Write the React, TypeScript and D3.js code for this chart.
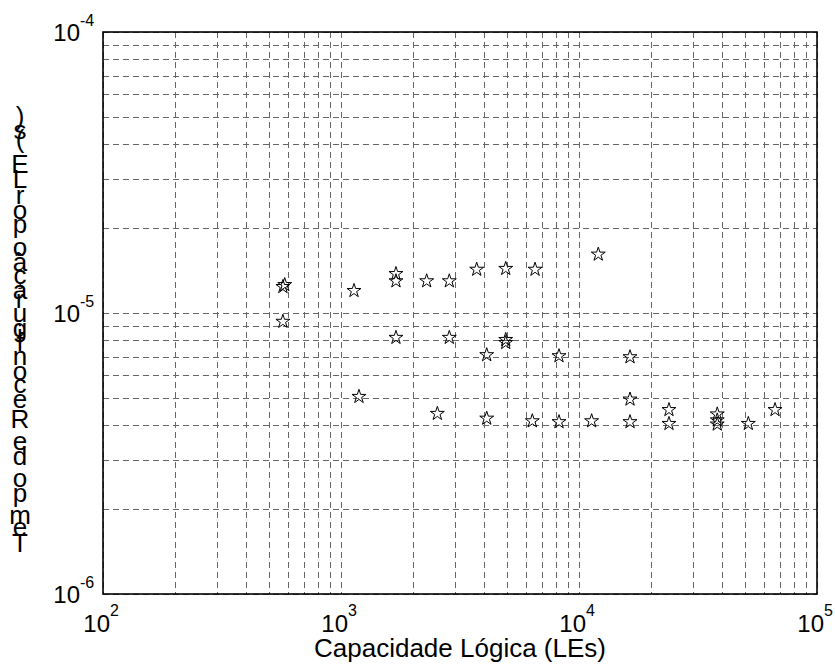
import React from 'react';
import * as d3 from 'd3';

// capacidade logica (LEs) e tempo de reconfiguracao por LE (s)
const capacidade = [
  570, 580, 570, 1134, 1190, 1702, 1702, 1702, 2291, 2852, 2852, 2540,
  3717, 4095, 4095, 4922, 4922, 4922, 6366, 6536, 12050, 8240, 8240, 11300,
  16380, 16380, 16380, 23880, 23880, 38100, 38100, 38100, 51460, 66620,
];
const tempo = [
  1.25e-5, 1.27e-5, 9.4e-6, 1.21e-5, 5.08e-6, 1.39e-5, 1.31e-5, 8.24e-6, 1.31e-5, 1.31e-5, 8.24e-6, 4.42e-6,
  1.44e-5, 7.15e-6, 4.25e-6, 1.45e-5, 8.1e-6, 7.9e-6, 4.16e-6, 1.44e-5, 1.63e-5, 7.09e-6, 4.13e-6, 4.16e-6,
  7.03e-6, 4.97e-6, 4.13e-6, 4.56e-6, 4.07e-6, 4.4e-6, 4.19e-6, 4.05e-6, 4.07e-6, 4.56e-6,
];

const xTickValues = [1e2, 1e3, 1e4, 1e5];
const xTickExp = ['2', '3', '4', '5'];
const yTickValues = [1e-6, 1e-5, 1e-4];
const yTickExp = ['-6', '-5', '-4'];

const xLabel = 'Capacidade Lógica (LEs)';
const yLabel = 'Tempo de Reconfiguração por LE (s)';

const font = '"Liberation Sans", Arial, Helvetica, sans-serif';

const App = () => {
  const width = 835;
  const height = 668;
  const margin = { top: 32, right: 18, bottom: 74, left: 103 };

  const x = d3.scaleLog().domain([1e2, 1e5]).range([margin.left, width - margin.right]);
  const y = d3.scaleLog().domain([1e-6, 1e-4]).range([height - margin.bottom, margin.top]);
  const snap = (v: number) => Math.round(v) + 0.5;

  const star = d3.symbol().type(d3.symbolStar).size(60)();

  // rotulo vertical: letras em pe, empilhadas de baixo para cima
  const labelSize = 26;
  const ctx = document.createElement('canvas').getContext('2d');
  let offsets: number[] = [];
  if (ctx) {
    ctx.font = `${labelSize}px ${font}`;
    offsets = yLabel.split('').map((_, i) => ctx.measureText(yLabel.slice(0, i)).width * 1.025);
  } else {
    offsets = yLabel.split('').map((_, i) => i * labelSize * 0.5);
  }
  const yLabelBase = 552;

  return (
    <div style={{ position: 'absolute', left: 0, top: 0 }}>
      <svg width={width} height={height} style={{ display: 'block', background: '#fff' }}>
        <g>
          {x.ticks().map((t, i) => (
            <line key={'gx' + i} x1={snap(x(t))} x2={snap(x(t))} y1={margin.top} y2={height - margin.bottom}
              stroke="#666" strokeWidth={1} strokeDasharray="6,4" />
          ))}
          {y.ticks().map((t, i) => (
            <line key={'gy' + i} x1={margin.left} x2={width - margin.right} y1={snap(y(t))} y2={snap(y(t))}
              stroke="#666" strokeWidth={1} strokeDasharray="6,4" />
          ))}
        </g>
        <rect x={margin.left} y={margin.top} width={width - margin.left - margin.right}
          height={height - margin.top - margin.bottom} fill="none" stroke="#000" strokeWidth={1.6} />
        <g fill="none" stroke="#000" strokeWidth={1}>
          {capacidade.map((c, i) => (
            <path key={'p' + i} d={star || ''} transform={`translate(${x(c)},${y(tempo[i]) + 1})`} />
          ))}
        </g>
        <g fontFamily={font} fill="#000">
          {xTickValues.map((t, i) => (
            <g key={'xt' + i}>
              <text x={x(t) + 7} y={height - margin.bottom + 38} fontSize={24} textAnchor="end">10</text>
              <text x={x(t) + 7} y={height - margin.bottom + 22} fontSize={16}>{xTickExp[i]}</text>
            </g>
          ))}
          {yTickValues.map((t, i) => (
            <g key={'yt' + i}>
              <text x={80} y={y(t) + 9} fontSize={24} textAnchor="end">10</text>
              <text x={80} y={y(t) - 6} fontSize={16}>{yTickExp[i]}</text>
            </g>
          ))}
          <text x={(margin.left + width - margin.right) / 2} y={657} fontSize={labelSize} textAnchor="middle">
            {xLabel}
          </text>
          {yLabel.split('').map((ch, i) => (
            <text key={'yl' + i} x={20} y={yLabelBase - offsets[i]} fontSize={labelSize} textAnchor="middle">
              {ch}
            </text>
          ))}
        </g>
      </svg>
    </div>
  );
};

export default App;
